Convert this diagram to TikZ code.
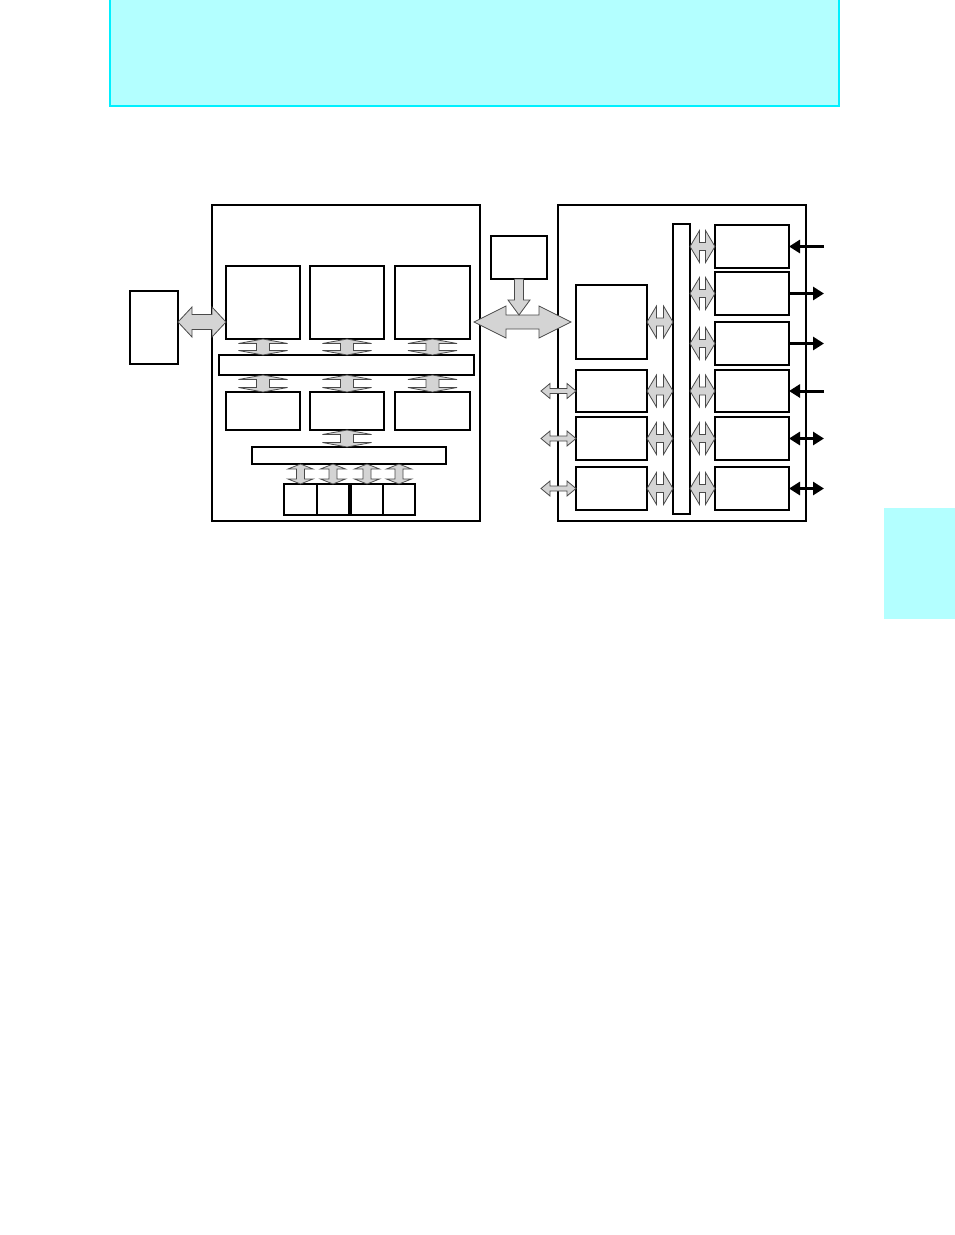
\documentclass[tikz,border=0pt]{standalone}
\usetikzlibrary{calc,arrows.meta}
\definecolor{hdrfill}{HTML}{B3FFFF}
\definecolor{hdrline}{HTML}{00F0FF}
\definecolor{fatfill}{HTML}{D4D4D4}
\definecolor{fatline}{HTML}{4A4A4A}
% box from corners (x1,y1)-(x2,y2), y downward
\newcommand{\mkbox}[6]{%
  \pgfmathsetmacro\bw{#5-#3}\pgfmathsetmacro\bh{#6-#4}%
  \pgfmathsetmacro\bx{(#3+#5)/2}\pgfmathsetmacro\by{(#4+#6)/2}%
  \node[#1,minimum width=\bw pt,minimum height=\bh pt] (#2) at (\bx,\by) {};}
% horizontal double fat arrow: #1 left tip, #2 right tip, #3 shaft half, #4 head half, #5 head length
\newcommand{\fatH}[5]{%
  \path[fat] let \p1=(#1), \p2=(#2) in
    (\x1,\y1) -- (\x1+#5pt,\y1+#4pt) -- (\x1+#5pt,\y1+#3pt) -- (\x2-#5pt,\y1+#3pt)
    -- (\x2-#5pt,\y1+#4pt) -- (\x2,\y1) -- (\x2-#5pt,\y1-#4pt) -- (\x2-#5pt,\y1-#3pt)
    -- (\x1+#5pt,\y1-#3pt) -- (\x1+#5pt,\y1-#4pt) -- cycle;}
% vertical double fat arrow: #1 top tip, #2 bottom tip
\newcommand{\fatV}[5]{%
  \path[fat] let \p1=(#1), \p2=(#2) in
    (\x1,\y1) -- (\x1+#4pt,\y1-#5pt) -- (\x1+#3pt,\y1-#5pt) -- (\x1+#3pt,\y2+#5pt)
    -- (\x1+#4pt,\y2+#5pt) -- (\x1,\y2) -- (\x1-#4pt,\y2+#5pt) -- (\x1-#3pt,\y2+#5pt)
    -- (\x1-#3pt,\y1-#5pt) -- (\x1-#4pt,\y1-#5pt) -- cycle;}
% single downward fat arrow: #1 tail, #2 tip
\newcommand{\fatD}[5]{%
  \path[fat] let \p1=(#1), \p2=(#2) in
    (\x1-#3pt,\y1) -- (\x1-#3pt,\y2+#5pt) -- (\x1-#4pt,\y2+#5pt) -- (\x1,\y2)
    -- (\x1+#4pt,\y2+#5pt) -- (\x1+#3pt,\y2+#5pt) -- (\x1+#3pt,\y1) -- cycle;}
\begin{document}
\begin{tikzpicture}[x=1pt,y=-1pt,
  box/.style={draw=black,line width=1.5pt,inner sep=0pt,outer sep=0pt},
  thinbox/.style={draw=black,line width=1.1pt,inner sep=0pt,outer sep=0pt},
  chip/.style={draw=black,line width=1.2pt,inner sep=0pt,outer sep=0pt},
  fat/.style={fill=fatfill,draw=fatline,line width=0.8pt,line join=miter},
  blk/.style={draw=black,line width=3pt},
  tipL/.style={-{Triangle[length=11pt,width=13pt]}},
  tipB/.style={{Triangle[length=11pt,width=13pt]}-{Triangle[length=11pt,width=13pt]}}]
\useasboundingbox (0,0) rectangle (954,1235);
\fill[white] (0,0) rectangle (954,1235);
% header and tab
\path[draw=hdrline,fill=hdrfill,line width=1.5pt] (110,-3) rectangle (839,106);
\fill[hdrfill] (884,508) rectangle (956,619);

% ---- left chip ----
\mkbox{chip}{lchip}{212}{205}{480}{521}
\mkbox{box}{ext}{130}{291}{178}{364}
\mkbox{box}{t1}{226}{266}{300}{339}
\mkbox{box}{t2}{310}{266}{384}{339}
\mkbox{box}{t3}{395}{266}{470}{339}
\mkbox{box}{bus1}{219}{355}{474}{375}
\mkbox{box}{m1}{226}{392}{300}{430}
\mkbox{box}{m2}{310}{392}{384}{430}
\mkbox{box}{m3}{395}{392}{470}{430}
\mkbox{box}{bus2}{252}{447}{446}{464}
\mkbox{box}{s1}{284}{484}{317}{515}
\mkbox{box}{s2}{317}{484}{349}{515}
\mkbox{box}{s3}{351}{484}{383}{515}
\mkbox{box}{s4}{383}{484}{415}{515}

% ---- right chip ----
\mkbox{chip}{rchip}{558}{205}{806}{521}
\mkbox{box}{ctl}{491}{236}{547}{279}
\mkbox{box}{big}{576}{285}{647}{359}
\mkbox{box}{c1a}{576}{370}{647}{412}
\mkbox{box}{c1b}{576}{417}{647}{460}
\mkbox{box}{c1c}{576}{467}{647}{510}
\mkbox{chip}{vbar}{673}{224}{690}{514}
\mkbox{thinbox}{c2a}{715}{225}{789}{268}
\mkbox{thinbox}{c2b}{715}{272}{789}{315}
\mkbox{thinbox}{c2c}{715}{322}{789}{365}
\mkbox{box}{c2d}{715}{370}{789}{412}
\mkbox{box}{c2e}{715}{417}{789}{460}
\mkbox{box}{c2f}{715}{467}{789}{510}

% ---- fat arrows, left chip ----
\coordinate (busy) at (0,322);
\fatH{ext.east |- busy}{t1.west |- busy}{7.5}{15}{14}
\foreach \k in {1,2,3}{
  \fatV{t\k.south}{bus1.north -| t\k.south}{6.5}{24.5}{4.5}
  \fatV{bus1.south -| m\k.north}{m\k.north}{6.5}{24.5}{4.5}
}
\fatV{m2.south}{bus2.north -| m2.south}{6.5}{24.5}{4.5}
\foreach \k in {1,2,3,4}{
  \fatV{bus2.south -| s\k.north}{s\k.north}{4}{12.5}{5}
}

% ---- big bus arrow and control arrow ----
\coordinate (bigL) at ([xshift=-6pt]lchip.east |- big.west);
\coordinate (bigR) at ([xshift=-5pt]big.west);
\fatH{bigL}{bigR}{7}{16}{32}
\coordinate (ctltip) at ($(ctl.south |- bigL)+(0,-7)$);
\fatD{ctl.south}{ctltip}{4.5}{11}{15}

% ---- fat arrows, right chip ----
\foreach \bb in {big,c1a,c1b,c1c}{
  \fatH{\bb.east}{vbar.west |- \bb.east}{4}{16}{9.5}
}
\foreach \bb in {c2a,c2b,c2c,c2d,c2e,c2f}{
  \fatH{vbar.east |- \bb.west}{\bb.west}{4}{16}{9.5}
}
\foreach \bb in {c1a,c1b,c1c}{
  \fatH{[xshift=-35pt]\bb.west}{\bb.west}{2.5}{7.5}{9}
}

% ---- black pin arrows ----
\foreach \bb in {c2a,c2b,c2c,c2d,c2e,c2f}{
  \coordinate (pin-\bb) at ([xshift=35pt]\bb.east);
}
\draw[blk,tipL] (pin-c2a) -- (c2a.east);
\draw[blk,tipL] (c2b.east) -- (pin-c2b);
\draw[blk,tipL] (c2c.east) -- (pin-c2c);
\draw[blk,tipL] (pin-c2d) -- (c2d.east);
\draw[blk,tipB] (c2e.east) -- (pin-c2e);
\draw[blk,tipB] (c2f.east) -- (pin-c2f);
\end{tikzpicture}
\end{document}
